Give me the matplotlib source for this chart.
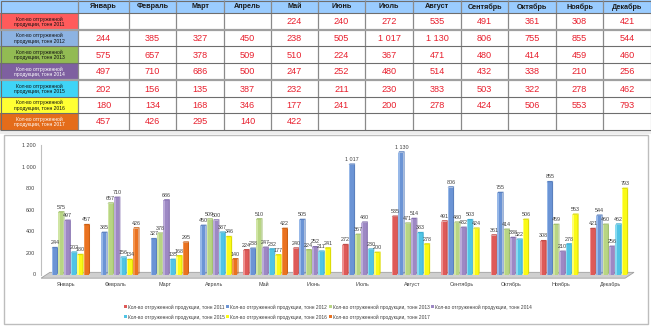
import matplotlib
matplotlib.use("Agg")
import matplotlib.pyplot as plt
import numpy as np
from matplotlib.patches import Rectangle, Polygon, Patch

plt.rcParams['font.family'] = ['Liberation Sans', 'DejaVu Sans']

# ---- data ----
months = ["Январь", "Февраль", "Март", "Апрель", "Май", "Июнь", "Июль",
          "Август", "Сентябрь", "Октябрь", "Ноябрь", "Декабрь"]
years = ["2011", "2012", "2013", "2014", "2015", "2016", "2017"]
row_label = "Кол-во отгруженной продукции, тонн {}"

s2011 = [None, None, None, None, 224, 240, 272, 535, 491, 361, 308, 421]
s2012 = [244, 385, 327, 450, 238, 505, 1017, 1130, 806, 755, 855, 544]
s2013 = [575, 657, 378, 509, 510, 224, 367, 471, 480, 414, 459, 460]
s2014 = [497, 710, 686, 500, 247, 252, 480, 514, 432, 338, 210, 256]
s2015 = [202, 156, 135, 387, 232, 211, 230, 383, 503, 322, 278, 462]
s2016 = [180, 134, 168, 346, 177, 241, 200, 278, 424, 506, 553, 793]
s2017 = [457, 426, 295, 140, 422, None, None, None, None, None, None, None]
series = [s2011, s2012, s2013, s2014, s2015, s2016, s2017]

y_ticks = [0, 200, 400, 600, 800, 1000, 1200]

# table row-header fills and text colours
row_fill = ["#FF5B5B", "#8DB3E2", "#92BB53", "#7E60A0", "#3FD4F7", "#FFFF33", "#E46C1A"]
row_text = ["#111111", "#111111", "#111111", "#FFFFFF", "#111111", "#111111", "#FFFFFF"]

# bar colours: (light, base, side)
bar_cols = [("#EE9290", "#DE5A58", "#C24D4B"),
            ("#97B8E8", "#6B94D5", "#5A80BE"),
            ("#D0E5A4", "#B8D583", "#A0BE6C"),
            ("#BBABD9", "#9D88C4", "#8570AF"),
            ("#88DBF1", "#50C4E5", "#3CAED2"),
            ("#FFFF70", "#FAFA16", "#DCDC00"),
            ("#F3944D", "#EA7220", "#CC6014")]


def fmt(v):
    return f"{v:,}".replace(",", " ")


W, H = 651, 326
fig = plt.figure(figsize=(W / 100, H / 100), dpi=100)
fig.patch.set_facecolor("white")

# ---- background layer in pixel coordinates (table + chart frame) ----
bg = fig.add_axes([0, 0, 1, 1])
bg.set_xlim(0, W)
bg.set_ylim(H, 0)
bg.axis("off")

col_edges = [0, 78, 129, 176, 224, 271, 318, 365, 413, 461, 508, 556, 603, 651]
row_edges = [0, 13, 30, 46, 63, 80, 97, 113, 130]

# header row
bg.add_patch(Rectangle((0, 0), W, row_edges[1], facecolor="#9ACCFF", edgecolor="none"))
for j, m in enumerate(months):
    cx = (col_edges[j + 1] + col_edges[j + 2]) / 2
    bg.text(cx, row_edges[1] / 2 + 0.5, m, ha="center", va="center",
            fontsize=5.2, fontweight="bold", color="#1A1A1A")

for i, (yr, vals) in enumerate(zip(years, series)):
    y0, y1 = row_edges[i + 1], row_edges[i + 2]
    bg.add_patch(Rectangle((0, y0), col_edges[1], y1 - y0,
                           facecolor=row_fill[i], edgecolor="none"))
    lbl = row_label.format(yr).replace("отгруженной ", "отгруженной\n")
    bg.text(col_edges[1] / 2, (y0 + y1) / 2 + 0.3, lbl, ha="center", va="center",
            fontsize=3.6, color=row_text[i], linespacing=1.1)
    for j, v in enumerate(vals):
        if v is None:
            continue
        cx = (col_edges[j + 1] + col_edges[j + 2]) / 2
        bg.text(cx, (y0 + y1) / 2 + 0.5, fmt(v), ha="center", va="center",
                fontsize=6.6, color="#E8202E")

# grid lines of the table
for x in col_edges[1:-1]:
    bg.plot([x, x], [0, row_edges[-1]], color="#8A8A8A", lw=0.9, solid_capstyle="butt")
for k, y in enumerate(row_edges[1:]):
    lw = 1.6 if k in (1, 4) else 0.8
    c = "#A0A0A0" if k in (1, 4) else "#6E6E6E"
    bg.plot([0, W], [y, y], color=c, lw=lw, solid_capstyle="butt")
bg.add_patch(Rectangle((0.5, 0.5), W - 1, row_edges[-1], fill=False,
                       edgecolor="#6E6E6E", lw=0.8))
bg.add_patch(Rectangle((0, row_edges[-1] + 0.5), W, 3.5, facecolor="#EDEDED", edgecolor="none"))

# chart frame
bg.add_patch(Rectangle((3.5, 134.5), 644, 189.5, facecolor="white",
                       edgecolor="#BDBDBD", lw=1.0))

# ---- chart axes ----
y_zero_px, y_top_px = 274.5, 145.0
ppu = (y_zero_px - y_top_px) / 1200.0
ymin, ymax = -55, 1260
x_left_px, x_right_px = 41, 635
ax_bottom = (H - (y_zero_px - ymin * ppu)) / H
ax_top = (H - (y_zero_px - ymax * ppu)) / H
ax = fig.add_axes([x_left_px / W, ax_bottom, (x_right_px - x_left_px) / W, ax_top - ax_bottom])
ax.patch.set_alpha(0)
ax.set_xlim(-0.5, 11.5)
ax.set_ylim(ymin, ymax)

# floor slab
floor = Polygon([(-0.5, -34), (11.3, -34), (11.48, 20), (-0.32, 20)],
                closed=True, facecolor="#CFCFCF", edgecolor="#A0A0A0", lw=0.6, zorder=1)
ax.add_patch(floor)

step = 0.129
face_w = 0.108
side_dx = 0.022
side_dy = 12
first_off = -0.36
light_frac = 0.3   # lit left part of each bar face

x_idx = np.arange(len(months))
for k, vals in enumerate(series):
    light, base, sidec = bar_cols[k]
    xs = np.array([x + first_off + step * k for x, v in zip(x_idx, vals) if v is not None])
    hs = np.array([v for v in vals if v is not None])
    z = 3 + k * 0.01
    left_edges = xs - face_w / 2
    # bar face: base colour with a lit left strip
    ax.bar(xs, hs, width=face_w, color=base, edgecolor="none", zorder=z)
    ax.bar(left_edges, hs, width=face_w * light_frac, align="edge",
           color=light, edgecolor="none", zorder=z + 0.001)
    for xc, h in zip(xs, hs):
        x0, x1 = xc - face_w / 2, xc + face_w / 2
        side = Polygon([(x1, 0), (x1 + side_dx, side_dy), (x1 + side_dx, h + side_dy), (x1, h)],
                       closed=True, facecolor=sidec, edgecolor="none", zorder=z + 0.003)
        top = Polygon([(x0, h), (x0 + side_dx, h + side_dy), (x1 + side_dx, h + side_dy), (x1, h)],
                      closed=True, facecolor=sidec, edgecolor="none", zorder=z + 0.003)
        ax.add_patch(side)
        ax.add_patch(top)
        ax.text(xc + side_dx / 2, h + side_dy + 14, fmt(h), ha="center", va="bottom",
                fontsize=3.9, color="#404040", zorder=6)

ax.set_xlim(-0.5, 11.5)
ax.set_ylim(ymin, ymax)

ax.set_xticks(x_idx)
ax.set_xticklabels(months, fontsize=3.9, color="#404040")
ax.set_yticks(y_ticks)
ax.set_yticklabels([fmt(t) for t in y_ticks], fontsize=3.9, color="#404040")
ax.tick_params(axis="both", length=0)
ax.tick_params(axis="x", pad=1.0)
ax.tick_params(axis="y", pad=4)
for s in ("top", "right", "bottom"):
    ax.spines[s].set_visible(False)
ax.spines["left"].set_color("#BFBFBF")
ax.spines["left"].set_linewidth(0.8)
ax.spines["left"].set_bounds(0, 1200)

# legend fills column-wise, so interleave to read row-wise across two rows
handles = [Patch(facecolor=bar_cols[k][1], edgecolor="none", label=row_label.format(y))
           for k, y in enumerate(years)]
order = [0, 4, 1, 5, 2, 6, 3]
fig.legend(handles=[handles[i] for i in order], ncol=4, loc="center",
           bbox_to_anchor=(328 / W, 1 - 312 / H),
           fontsize=3.5, frameon=False, handlelength=0.6, handleheight=0.6,
           handletextpad=0.25, columnspacing=0.3, labelspacing=1.0, labelcolor="#404040")

fig.savefig("out.png", dpi=100, facecolor="white")
